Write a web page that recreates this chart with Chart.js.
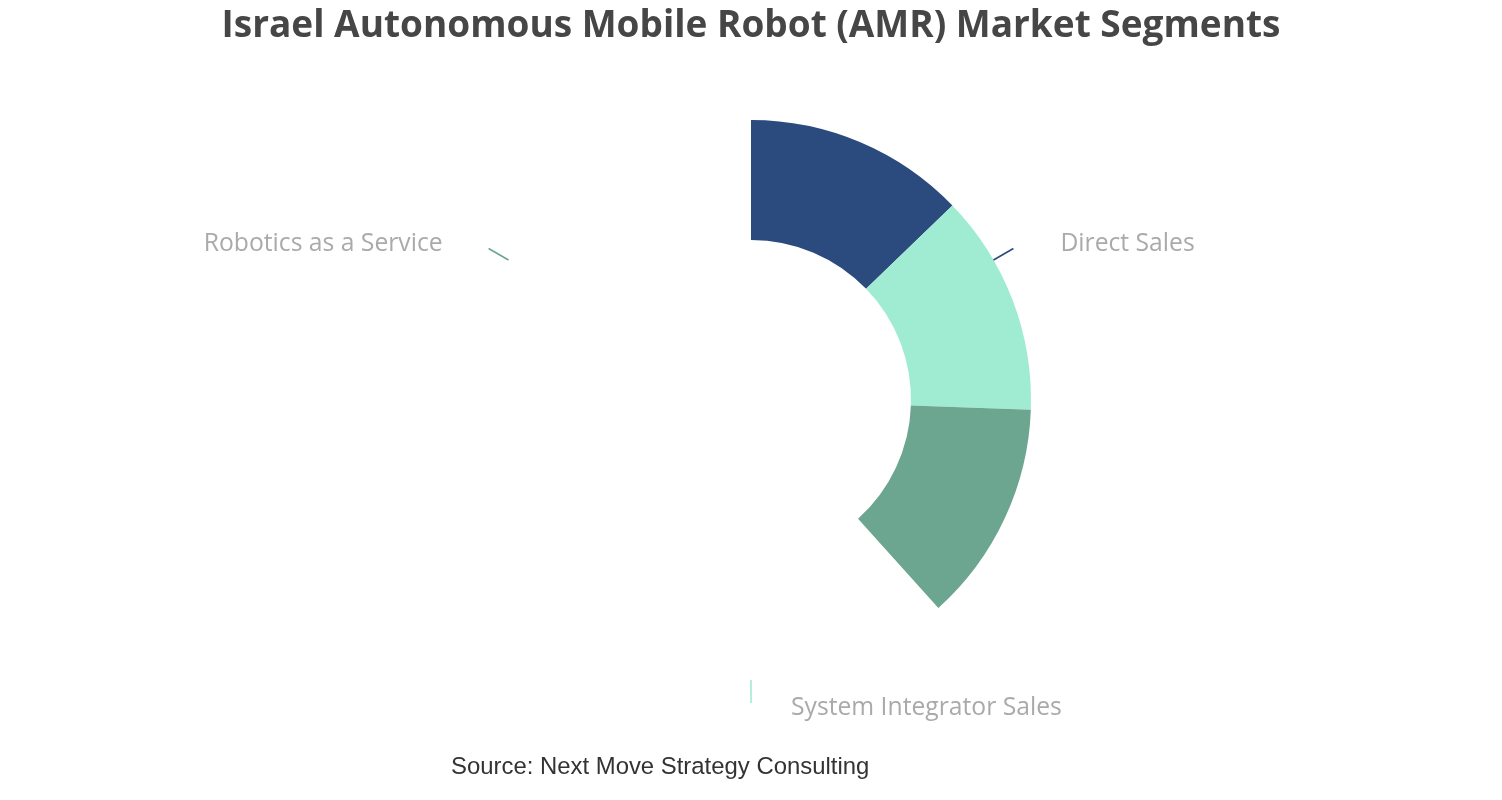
<!DOCTYPE html>
<html>
<head>
<meta charset="utf-8">
<script src="https://cdn.jsdelivr.net/npm/chart.js@4/dist/chart.umd.min.js"></script>
<style>
  html, body { margin: 0; padding: 0; background: #ffffff; }
  #wrap { width: 1502px; height: 800px; position: relative; }
</style>
</head>
<body>
<div id="wrap"><canvas id="c" width="1502" height="800"></canvas></div>
<script>
// ---- data ----
const categories = ['Direct Sales', 'System Integrator Sales', 'Robotics as a Service'];
const shares = [33.3, 33.3, 33.3];
const segmentColors = ['#2b4a7e', '#a0ecd2', '#6ca590'];
const titleText = 'Israel Autonomous Mobile Robot (AMR) Market Segments';
const sourceText = 'Source: Next Move Strategy Consulting';
const revealedSweepDeg = 138; // the reference shows the ring only partly drawn

const textPlugin = {
  id: 'textPlugin',
  afterDatasetsDraw(chart) {
    const ctx = chart.ctx;
    const meta = chart.getDatasetMeta(0);
    const arc0 = meta.data[0];
    const cx = arc0.x, cy = arc0.y, R = arc0.outerRadius;
    const total = shares.reduce((a, b) => a + b, 0);
    let cum = 0;
    ctx.save();
    shares.forEach((v, i) => {
      const mid = -Math.PI / 2 + (cum + v / 2) / total * Math.PI * 2;
      cum += v;
      const dx = Math.cos(mid), dy = Math.sin(mid);
      const x1 = cx + dx * R, y1 = cy + dy * R;
      const x2 = cx + dx * (R + 23), y2 = cy + dy * (R + 23);
      ctx.strokeStyle = segmentColors[i];
      ctx.lineWidth = 1.6;
      ctx.beginPath();
      ctx.moveTo(x1, y1);
      ctx.lineTo(x2, y2);
      ctx.stroke();
      const right = dx >= -0.001;
      ctx.font = '24.7px "Open Sans", "Noto Sans", sans-serif';
      ctx.fillStyle = '#aaaaaa';
      ctx.textBaseline = 'alphabetic';
      ctx.textAlign = right ? 'left' : 'right';
      const tx = right ? x2 + (dy > 0.9 ? 40 : 47) : x2 - 46;
      const ty = dy > 0.9 ? y2 + 12 : y2 + 3;
      ctx.fillText(categories[i], tx, ty);
    });
    ctx.restore();
  },
  afterDraw(chart) {
    const ctx = chart.ctx;
    ctx.save();
    ctx.fillStyle = '#464646';
    ctx.font = 'bold 37px "Open Sans", "Noto Sans", sans-serif';
    ctx.textAlign = 'center';
    ctx.textBaseline = 'alphabetic';
    ctx.fillText(titleText, 751, 37);
    ctx.fillStyle = '#333333';
    ctx.font = '23.9px "Liberation Sans", Arial, sans-serif';
    ctx.textAlign = 'left';
    ctx.fillText(sourceText, 451, 774);
    ctx.restore();
  }
};

new Chart(document.getElementById('c'), {
  type: 'doughnut',
  data: {
    labels: categories,
    datasets: [{
      data: shares,
      backgroundColor: segmentColors,
      borderWidth: 0,
      hoverBorderWidth: 0,
      offset: 0,
      hoverOffset: 0,
      spacing: 0
    }]
  },
  options: {
    responsive: false,
    animation: false,
    events: [],
    rotation: 0,
    circumference: revealedSweepDeg,
    cutout: '57.14%',
    layout: { padding: { left: 751, right: 471, top: 114, bottom: 186 } },
    plugins: {
      legend: { display: false },
      title: { display: false },
      tooltip: { enabled: false }
    }
  },
  plugins: [textPlugin]
});
</script>
</body>
</html>
